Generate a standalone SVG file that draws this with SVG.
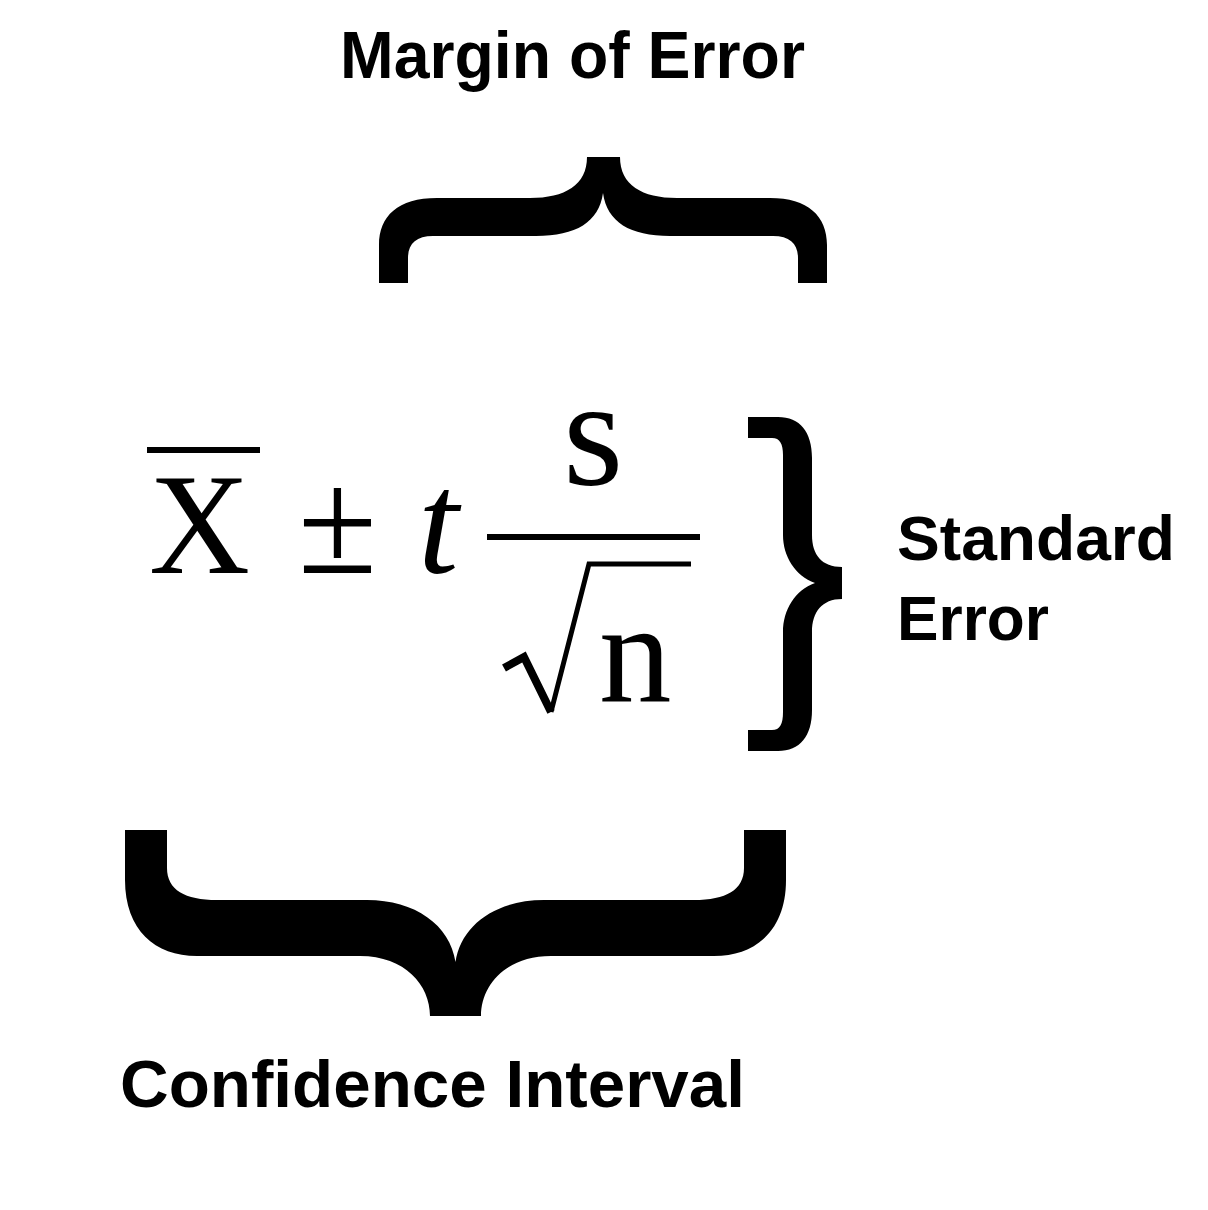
<svg xmlns="http://www.w3.org/2000/svg" width="1208" height="1210" viewBox="0 0 1208 1210">
<style>
.lbl{font-family:"Liberation Sans",Arial,Helvetica,sans-serif;font-weight:bold;fill:#000}
.math{font-family:"Liberation Serif","Times New Roman",serif;fill:#000}
.brace{fill:#000;stroke:none}
</style>
<rect width="1208" height="1210" fill="#fff"/>
<g id="formula">
<rect x="147" y="447" width="113" height="6" fill="#000"/>
<text class="math" x="149" y="573" font-size="145" textLength="101" lengthAdjust="spacingAndGlyphs">X</text>
<text class="math" x="298" y="573" font-size="150" textLength="79" lengthAdjust="spacingAndGlyphs">±</text>
<text class="math" x="418" y="573" font-size="146" font-style="italic">t</text>
<rect x="487" y="534" width="213" height="6" fill="#000"/>
<text class="math" x="563" y="484" font-size="155">s</text>
<path d="M504 668 L524 657 L551 712" fill="none" stroke="#000" stroke-width="8" stroke-linejoin="miter"/>
<path d="M551 712 L589 564 L691 564" fill="none" stroke="#000" stroke-width="5" stroke-linejoin="miter"/>
<text class="math" x="599" y="702" font-size="145">n</text>
</g>
<g id="connectors">
<path id="brace-margin" class="brace" d="M379 283 L379 245 C379 216 398 198 437 198 L530 198 C565 198 587 185 587 157 L620 157 C620 185 642 198 677 198 L770 198 C808 198 827 216 827 245 L827 283 L798 283 L798 258 C798 244 790 236 773 236 L670 236 C630 236 607 222 603 193 C599 222 576 236 536 236 L433 236 C416 236 408 244 408 258 L408 283 Z"/>
<path id="brace-se" class="brace" d="M748 417 L778 417 C800 417 812 432 812 458 L812 535 C812 555 822 567 842 567 L842 599 C822 599 812 612 812 632 L812 710 C812 736 800 751 778 751 L748 751 L748 730 L772 730 C780 730 783 724 783 712 L783 632 C783 610 795 590 815 583 C795 576 783 556 783 535 L783 455 C783 444 780 438 772 438 L748 438 Z"/>
<path id="brace-ci" class="brace" d="M125 830 L167 830 L167 868 C167 890 185 900 217 900 L367 900 C415 900 450 925 455.5 962 C461 925 496 900 544 900 L694 900 C726 900 744 890 744 868 L744 830 L786 830 L786 880 C786 930 756 956 714 956 L551 956 C506 956 481 985 481 1016 L430 1016 C430 985 405 956 360 956 L197 956 C155 956 125 930 125 880 Z"/>
</g>
<g id="label-margin">
<text class="lbl" x="340" y="78" font-size="67" textLength="465" lengthAdjust="spacingAndGlyphs">Margin of Error</text>
</g>
<g id="label-se">
<text class="lbl" x="897" y="560" font-size="63" textLength="278" lengthAdjust="spacingAndGlyphs">Standard</text>
<text class="lbl" x="897" y="640" font-size="63" textLength="152" lengthAdjust="spacingAndGlyphs">Error</text>
</g>
<g id="label-ci">
<text class="lbl" x="120" y="1107" font-size="66" textLength="625" lengthAdjust="spacingAndGlyphs">Confidence Interval</text>
</g>
</svg>
